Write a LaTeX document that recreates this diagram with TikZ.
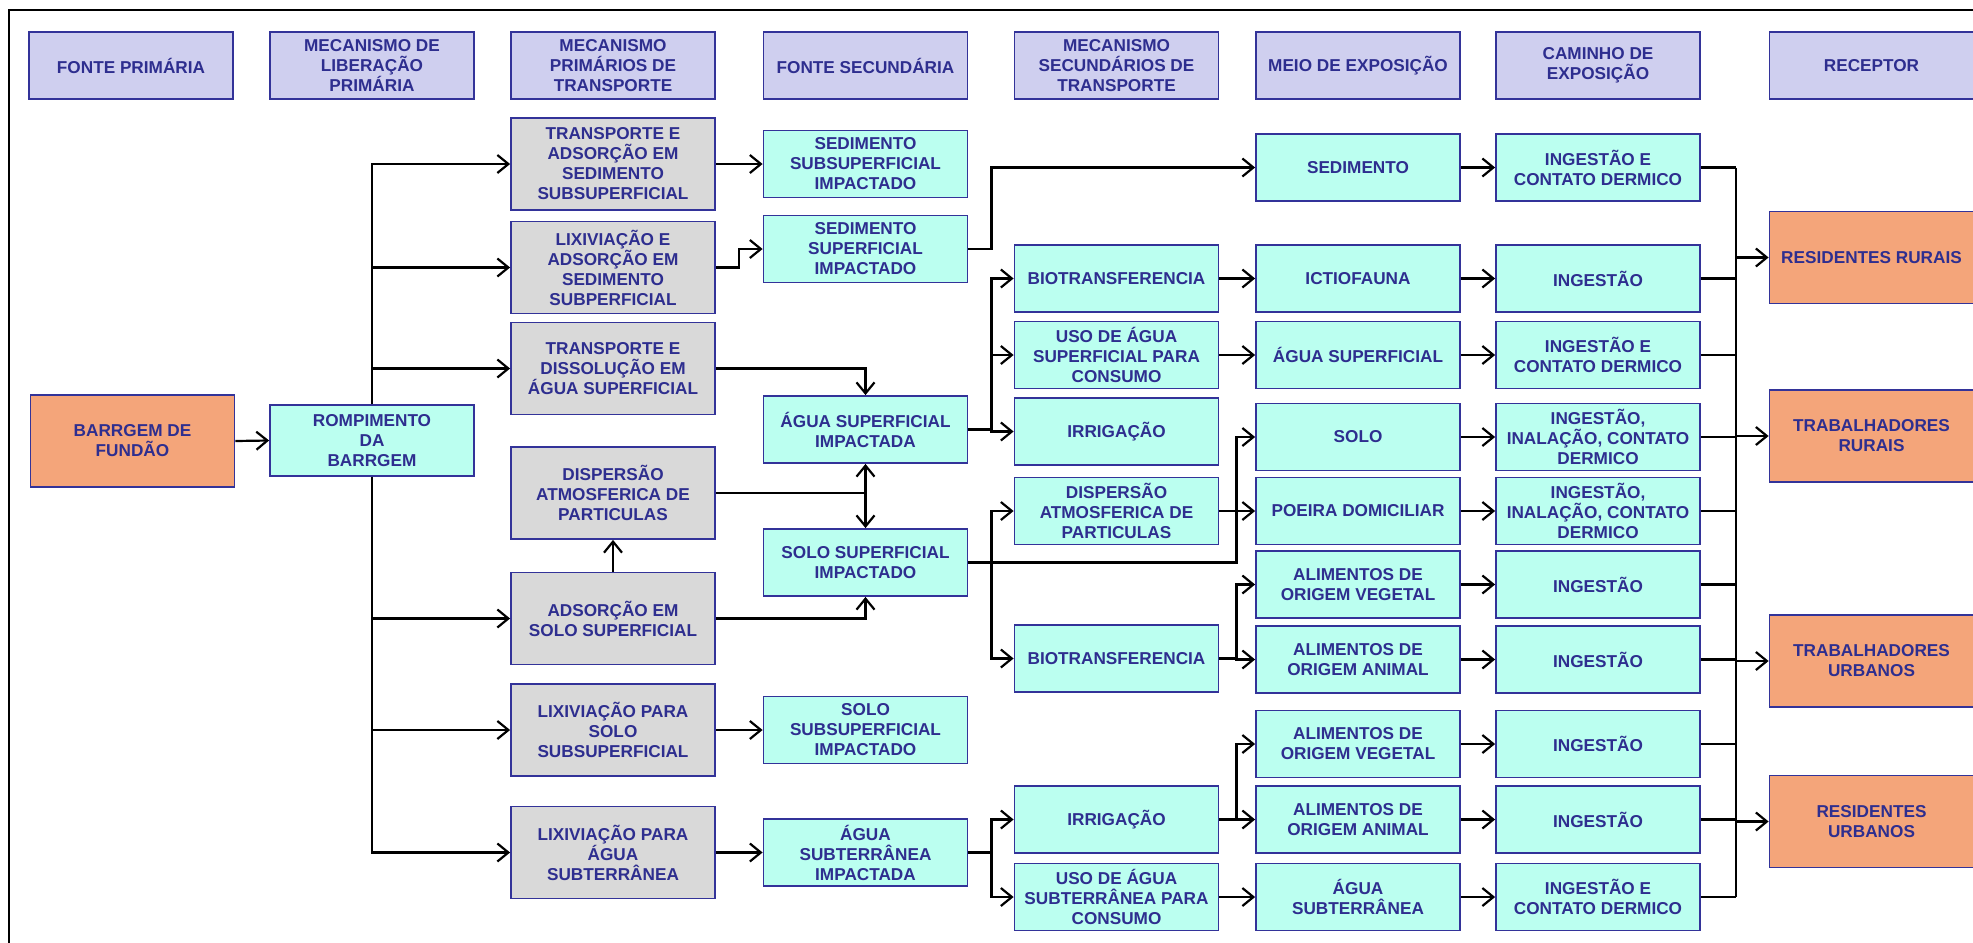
\documentclass[tikz,border=0pt]{standalone}
\usepackage{fontspec}
\setmainfont{Liberation Sans}
\usetikzlibrary{arrows.meta}
\definecolor{bordc}{HTML}{333399}
\definecolor{txtc}{HTML}{2E2E8F}
\definecolor{hdrc}{HTML}{CFCFEF}
\definecolor{cyc}{HTML}{BBFFF0}
\definecolor{grc}{HTML}{D9D9D9}
\definecolor{orc}{HTML}{F4A57A}
\begin{document}
\begin{tikzpicture}[x=0.5pt,y=-0.5pt,
  box/.style={draw=bordc, line width=0.9pt, text=txtc, align=center,
    font=\bfseries\fontsize{8.6}{10}\selectfont, minimum width=102pt, inner sep=0pt},
  hdr/.style={box, fill=hdrc, minimum height=33.5pt},
  cy/.style={box, fill=cyc, minimum height=33.5pt},
  gr/.style={box, fill=grc, minimum height=46pt},
  org/.style={box, fill=orc, minimum height=46pt},
  ln/.style={line width=1.1pt, black},
  arr/.style={ln, -{Straight Barb[length=5.5pt,width=9pt,line width=1.1pt]}}]
\useasboundingbox (0,0) rectangle (1973,942);
\clip (0,0) rectangle (1973,942);
% frame
\draw[ln] (9,950) -- (9,10) -- (1990,10);
% headers
\node[hdr] (h1) at (131,65.5) {FONTE PRIMÁRIA};
\node[hdr] (h2) at (372,65.5) {MECANISMO DE\\LIBERAÇÃO\\PRIMÁRIA};
\node[hdr] (h3) at (613,65.5) {MECANISMO\\PRIMÁRIOS DE\\TRANSPORTE};
\node[hdr] (h4) at (865.5,65.5) {FONTE SECUNDÁRIA};
\node[hdr] (h5) at (1116.5,65.5) {MECANISMO\\SECUNDÁRIOS DE\\TRANSPORTE};
\node[hdr] (h6) at (1358,65.5) {MEIO DE EXPOSIÇÃO};
\node[hdr] (h7) at (1598,65.5) {CAMINHO DE\\EXPOSIÇÃO};
\node[hdr] (h8) at (1871.5,65.5) {RECEPTOR};
% column 1-2
\node[org] (barr) at (132.5,441) {BARRGEM DE\\FUNDÃO};
\node[cy, minimum height=35.5pt] (romp) at (372,440.5) {ROMPIMENTO\\DA\\BARRGEM};
% column 3
\node[gr] (g1) at (613,164) {TRANSPORTE E\\ADSORÇÃO EM\\SEDIMENTO\\SUBSUPERFICIAL};
\node[gr] (g2) at (613,267.5) {LIXIVIAÇÃO E\\ADSORÇÃO EM\\SEDIMENTO\\SUBPERFICIAL};
\node[gr] (g3) at (613,368.5) {TRANSPORTE E\\DISSOLUÇÃO EM\\ÁGUA SUPERFICIAL};
\node[gr] (g4) at (613,493) {DISPERSÃO\\ATMOSFERICA DE\\PARTICULAS};
\node[gr] (g5) at (613,618.5) {ADSORÇÃO EM\\SOLO SUPERFICIAL};
\node[gr] (g6) at (613,730) {LIXIVIAÇÃO PARA\\SOLO\\SUBSUPERFICIAL};
\node[gr] (g7) at (613,852.5) {LIXIVIAÇÃO PARA\\ÁGUA\\SUBTERRÂNEA};
% column 4
\node[cy] (sedsub) at (865.5,164) {SEDIMENTO\\SUBSUPERFICIAL\\IMPACTADO};
\node[cy] (sedsup) at (865.5,249) {SEDIMENTO\\SUPERFICIAL\\IMPACTADO};
\node[cy] (asi) at (865.5,429.5) {ÁGUA SUPERFICIAL\\IMPACTADA};
\node[cy] (ssi) at (865.5,562.5) {SOLO SUPERFICIAL\\IMPACTADO};
\node[cy] (ssubi) at (865.5,730) {SOLO\\SUBSUPERFICIAL\\IMPACTADO};
\node[cy] (asubi) at (865.5,852.5) {ÁGUA\\SUBTERRÂNEA\\IMPACTADA};
% column 5
\node[cy] (bio1) at (1116.5,278.5) {BIOTRANSFERENCIA};
\node[cy] (uso1) at (1116.5,355) {USO DE ÁGUA\\SUPERFICIAL PARA\\CONSUMO};
\node[cy] (irr1) at (1116.5,431.5) {IRRIGAÇÃO};
\node[cy] (disp2) at (1116.5,511) {DISPERSÃO\\ATMOSFERICA DE\\PARTICULAS};
\node[cy] (bio2) at (1116.5,658.5) {BIOTRANSFERENCIA};
\node[cy] (irr2) at (1116.5,819.5) {IRRIGAÇÃO};
\node[cy] (uso2) at (1116.5,897) {USO DE ÁGUA\\SUBTERRÂNEA PARA\\CONSUMO};
% column 6
\node[cy] (sedim) at (1358,167.5) {SEDIMENTO};
\node[cy] (ictio) at (1358,278.5) {ICTIOFAUNA};
\node[cy] (asup) at (1358,355) {ÁGUA SUPERFICIAL};
\node[cy] (solo) at (1358,437) {SOLO};
\node[cy] (poeira) at (1358,511) {POEIRA DOMICILIAR};
\node[cy] (av1) at (1358,584.5) {ALIMENTOS DE\\ORIGEM VEGETAL};
\node[cy] (aa1) at (1358,659.5) {ALIMENTOS DE\\ORIGEM ANIMAL};
\node[cy] (av2) at (1358,744) {ALIMENTOS DE\\ORIGEM VEGETAL};
\node[cy] (aa2) at (1358,819.5) {ALIMENTOS DE\\ORIGEM ANIMAL};
\node[cy] (asub) at (1358,897) {ÁGUA\\SUBTERRÂNEA};
% column 7
\node[cy] (i1) at (1598,167.5) {INGESTÃO E\\CONTATO DERMICO};
\node[cy] (i2) at (1598,278.5) {INGESTÃO};
\node[cy] (i3) at (1598,355) {INGESTÃO E\\CONTATO DERMICO};
\node[cy] (i4) at (1598,437) {INGESTÃO,\\INALAÇÃO, CONTATO\\DERMICO};
\node[cy] (i5) at (1598,511) {INGESTÃO,\\INALAÇÃO, CONTATO\\DERMICO};
\node[cy] (i6) at (1598,584.5) {INGESTÃO};
\node[cy] (i7) at (1598,659.5) {INGESTÃO};
\node[cy] (i8) at (1598,744) {INGESTÃO};
\node[cy] (i9) at (1598,819.5) {INGESTÃO};
\node[cy] (i10) at (1598,897) {INGESTÃO E\\CONTATO DERMICO};
% column 8
\node[org] (rr) at (1871.5,257.5) {RESIDENTES RURAIS};
\node[org] (tr) at (1871.5,436) {TRABALHADORES\\RURAIS};
\node[org] (tu) at (1871.5,661) {TRABALHADORES\\URBANOS};
\node[org] (ru) at (1871.5,821.5) {RESIDENTES\\URBANOS};
% connectors
\draw[arr] (barr.east) -- (romp.west);
\draw[arr] (romp.north) |- (g1.west);
\draw[arr] (romp.north) |- (g2.west);
\draw[arr] (romp.north) |- (g3.west);
\draw[arr] (romp.south) |- (g5.west);
\draw[arr] (romp.south) |- (g6.west);
\draw[arr] (romp.south) |- (g7.west);
\draw[arr] (g1.east) -- (sedsub.west);
\draw[arr] (g2.east) -- ++(23,0) |- (sedsup.west);
\draw[arr] (g3.east) -| (asi.north);
\draw[arr] (g4.east) -| (asi.south);
\draw[arr] (g4.east) -| (ssi.north);
\draw[arr] (g5.north) -- (g4.south);
\draw[arr] (g5.east) -| (ssi.south);
\draw[arr] (g6.east) -- (ssubi.west);
\draw[arr] (g7.east) -- (asubi.west);
\draw[arr] (sedsup.east) -- ++(23,0) |- (sedim.west);
\draw[arr] (asi.east) -- ++(23,0) |- (bio1.west);
\draw[arr] (asi.east) -- ++(23,0) |- (uso1.west);
\draw[arr] (asi.east) -- ++(23,0) |- (irr1.west);
\draw[arr] (ssi.east) -- ++(23,0) |- (disp2.west);
\draw[arr] (ssi.east) -- ++(23,0) |- (bio2.west);
\draw[arr] (ssi.east) -- ++(268,0) |- (solo.west);
\draw[arr] (asubi.east) -- ++(23,0) |- (irr2.west);
\draw[arr] (asubi.east) -- ++(23,0) |- (uso2.west);
\draw[arr] (bio1.east) -- (ictio.west);
\draw[arr] (uso1.east) -- (asup.west);
\draw[arr] (disp2.east) -- (poeira.west);
\draw[arr] (bio2.east) -- ++(17,0) |- (av1.west);
\draw[arr] (bio2.east) -- ++(17,0) |- (aa1.west);
\draw[arr] (irr2.east) -- ++(17,0) |- (av2.west);
\draw[arr] (irr2.east) -- ++(17,0) |- (aa2.west);
\draw[arr] (uso2.east) -- (asub.west);
\draw[arr] (sedim.east) -- (i1.west);
\draw[arr] (ictio.east) -- (i2.west);
\draw[arr] (asup.east) -- (i3.west);
\draw[arr] (solo.east) -- (i4.west);
\draw[arr] (poeira.east) -- (i5.west);
\draw[arr] (av1.east) -- (i6.west);
\draw[arr] (aa1.east) -- (i7.west);
\draw[arr] (av2.east) -- (i8.west);
\draw[arr] (aa2.east) -- (i9.west);
\draw[arr] (asub.east) -- (i10.west);
% collector
\draw[ln] (i1.east) -- ++(35,0) coordinate (ct);
\draw[ln] (ct) -- (ct |- i10.east);
\foreach \n in {i2,i3,i4,i5,i6,i7,i8,i9,i10} {\draw[ln] (\n.east) -- (\n.east -| ct);}
\draw[arr] (ct |- rr.west) -- (rr.west);
\draw[arr] (ct |- tr.west) -- (tr.west);
\draw[arr] (ct |- tu.west) -- (tu.west);
\draw[arr] (ct |- ru.west) -- (ru.west);
\end{tikzpicture}
\end{document}
